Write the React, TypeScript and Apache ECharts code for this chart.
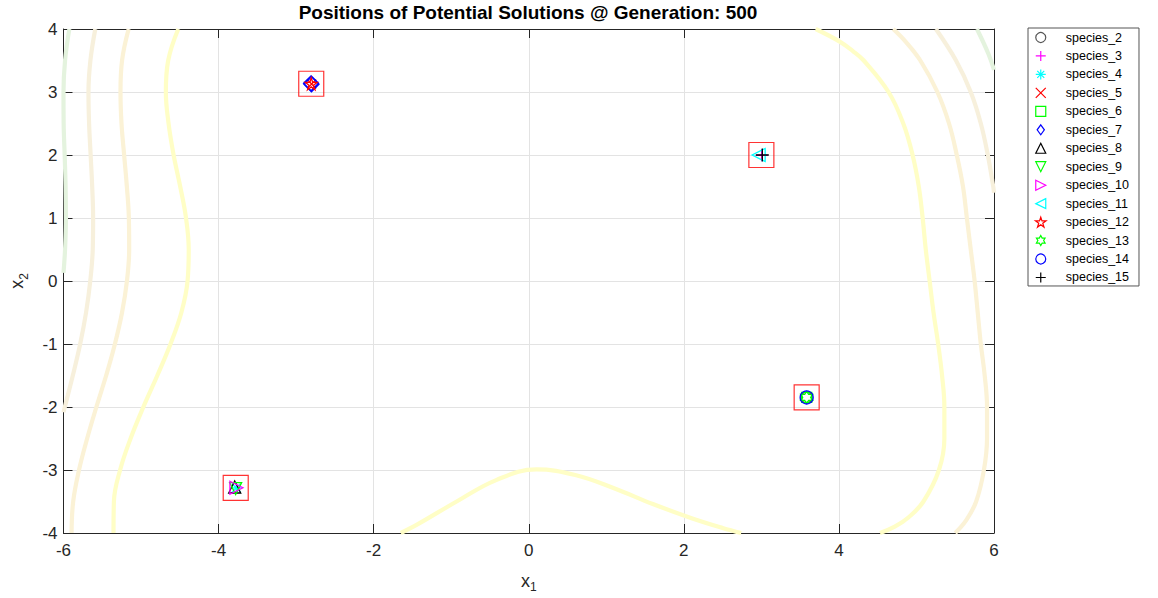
import React, { useEffect, useRef } from "react";
import * as echarts from "echarts";

// ---------- data ----------
const titleText = "Positions of Potential Solutions @ Generation: 500";
const xTicks = [-6, -4, -2, 0, 2, 4, 6];
const yTicks = [-4, -3, -2, -1, 0, 1, 2, 3, 4];

const speciesNames = [
  "species_2", "species_3", "species_4", "species_5", "species_6", "species_7", "species_8",
  "species_9", "species_10", "species_11", "species_12", "species_13", "species_14", "species_15",
];

// positions of each species (x1, x2)
const species2 = [[3.582, -1.849]];
const species3 = [[3.005, 1.995]];
const species4 = [[-3.772, -3.285]];
const species5 = [[-2.800, 3.128]];
const species6 = [[3.585, -1.847]];
const species7 = [[-2.808, 3.138], [-2.802, 3.122]];
const species8 = [[-3.792, -3.270]];
const species9 = [[-3.780, -3.295]];
const species10 = [[-3.770, -3.282]];
const species11 = [[2.965, 2.0]];
const species12 = [[-2.805, 3.131]];
const species13 = [[3.584, -1.848]];
const species14 = [[3.584, -1.848]];
const species15 = [[3.012, 2.0]];

// best solution of each cluster (red boxes)
const boxCenters = [[-2.805, 3.131], [3.0, 2.0], [3.584, -1.848], [-3.779, -3.283]];

// contour lines of the objective
const contour200Left = [[-4.52, 4], [-4.65, 3.5], [-4.68, 3], [-4.645, 2.5], [-4.58, 2], [-4.495, 1.5], [-4.42, 1], [-4.385, 0.5], [-4.4, 0], [-4.48, -0.5], [-4.62, -1], [-4.79, -1.5], [-4.97, -2], [-5.135, -2.5], [-5.27, -3], [-5.35, -3.5], [-5.355, -4]];
const contour200Bottom = [[-1.65, -4], [-1.43, -3.86], [-0.93, -3.5], [-0.42, -3.16], [0.1, -2.99], [0.6, -3.08], [1.1, -3.29], [1.6, -3.54], [2.1, -3.765], [2.5, -3.92], [2.74, -4]];
const contour200Right = [[3.7, 4], [4.01, 3.8], [4.18, 3.65], [4.32, 3.5], [4.64, 3], [4.83, 2.5], [4.95, 2], [5.03, 1.5], [5.08, 1], [5.12, 0.5], [5.17, 0], [5.22, -0.5], [5.28, -1], [5.33, -1.5], [5.36, -2], [5.36, -2.5], [5.29, -3], [5.09, -3.5], [4.9, -3.75], [4.72, -3.9], [4.53, -4]];
const contour400Left = [[-5.16, 4], [-5.245, 3.5], [-5.265, 3], [-5.252, 2.5], [-5.218, 2], [-5.183, 1.5], [-5.157, 1], [-5.153, 0.5], [-5.182, 0], [-5.245, -0.5], [-5.337, -1], [-5.45, -1.5], [-5.576, -2], [-5.695, -2.5], [-5.8, -3], [-5.875, -3.5], [-5.896, -4]];
const contour400Right = [[4.7, 4], [4.86, 3.8], [5.05, 3.5], [5.27, 3], [5.42, 2.5], [5.52, 2], [5.6, 1.5], [5.65, 1], [5.7, 0.5], [5.75, 0], [5.79, -0.5], [5.83, -1], [5.88, -1.5], [5.91, -2], [5.91, -2.5], [5.87, -3], [5.77, -3.5], [5.64, -3.8], [5.5, -4]];
const contour600Left = [[-5.59, 4], [-5.653, 3.5], [-5.678, 3], [-5.67, 2.5], [-5.65, 2], [-5.63, 1.5], [-5.618, 1], [-5.623, 0.5], [-5.655, 0], [-5.709, -0.5], [-5.785, -1], [-5.88, -1.5], [-5.983, -2], [-6, -2.085]];
const contour600Right = [[5.25, 4], [5.51, 3.5], [5.7, 3], [5.83, 2.5], [5.92, 2], [5.99, 1.5], [6, 1.4]];
const contour800Left = [[-5.925, 4], [-5.98, 3.5], [-6, 3], [-5.998, 2.5], [-5.985, 2], [-5.973, 1.5], [-5.969, 1], [-5.98, 0.5], [-6, 0.13]];
const contour800Right = [[5.78, 4], [5.93, 3.6], [6, 3.35]];

// ---------- styles ----------
const P = {
  plus: "path://M0,-1L0,1M-1,0L1,0",
  cross: "path://M-1,-1L1,1M1,-1L-1,1",
  asterisk: "path://M0,-1L0,1M-1,0L1,0M-0.7,-0.7L0.7,0.7M0.7,-0.7L-0.7,0.7",
  square: "path://M-1,-1L1,-1L1,1L-1,1Z",
  diamond: "path://M0,-1.25L0.9,0L0,1.25L-0.9,0Z",
  down: "path://M-1,-1L1,-1L0,1Z",
  right: "path://M-1,-1L1,0L-1,1Z",
  left: "path://M1,-1L-1,0L1,1Z",
  up: "path://M0,-1L1,1L-1,1Z",
  penta: "path://M0,-1L0.2245,-0.309L0.951,-0.309L0.3633,0.118L0.5878,0.809L0,0.382L-0.5878,0.809L-0.3633,0.118L-0.951,-0.309L-0.2245,-0.309Z",
  hexa: "path://M0,-1L0.2887,-0.5L0.866,-0.5L0.577,0L0.866,0.5L0.2887,0.5L0,1L-0.2887,0.5L-0.866,0.5L-0.577,0L-0.866,-0.5L-0.2887,-0.5Z",
};

const speciesStyle = [
  { data: species2, color: "#555555", symbol: "circle", size: 11 },
  { data: species3, color: "#ff00ff", symbol: P.plus, size: 12 },
  { data: species4, color: "#00ffff", symbol: P.asterisk, size: 12 },
  { data: species5, color: "#ff0000", symbol: P.cross, size: 9 },
  { data: species6, color: "#00ff00", symbol: P.square, size: 10 },
  { data: species7, color: "#0000ff", symbol: P.diamond, size: 15 },
  { data: species8, color: "#000000", symbol: P.up, size: 12 },
  { data: species9, color: "#00ff00", symbol: P.down, size: 12 },
  { data: species10, color: "#ff00ff", symbol: P.right, size: 13 },
  { data: species11, color: "#00ffff", symbol: P.left, size: 13 },
  { data: species12, color: "#ff0000", symbol: P.penta, size: 12 },
  { data: species13, color: "#00ff00", symbol: P.hexa, size: 12 },
  { data: species14, color: "#0000ff", symbol: "circle", size: 13 },
  { data: species15, color: "#000000", symbol: P.plus, size: 13 },
];

const contourSets = [
  { data: contour200Left, color: "#fffec6" },
  { data: contour200Bottom, color: "#fffec6" },
  { data: contour200Right, color: "#fffec6" },
  { data: contour400Left, color: "#fbf2d6" },
  { data: contour400Right, color: "#fbf2d6" },
  { data: contour600Left, color: "#f7f0dc" },
  { data: contour600Right, color: "#f7f0dc" },
  { data: contour800Left, color: "#e4f3de" },
  { data: contour800Right, color: "#e4f3de" },
];

const FONT = "Arial, 'Liberation Sans', Helvetica, sans-serif";
const AX = "#262626";

export default function App() {
  const ref = useRef<HTMLDivElement>(null);
  useEffect(() => {
    if (!ref.current) return;
    const chart = echarts.init(ref.current, undefined, { renderer: "svg" });

    const series: any[] = [];
    contourSets.forEach((c, i) => {
      series.push({
        type: "line",
        name: "contour" + i,
        data: c.data,
        smooth: 0.4,
        showSymbol: false,
        silent: true,
        z: 1,
        lineStyle: { color: c.color, width: 4.2 },
      });
    });
    speciesStyle.forEach((s, i) => {
      series.push({
        type: "scatter",
        name: speciesNames[i],
        data: s.data,
        symbol: s.symbol,
        symbolSize: s.size,
        z: 3,
        itemStyle: { color: "none", borderColor: s.color, borderWidth: 1.3, opacity: 1 },
      });
    });
    series.push({
      type: "scatter",
      name: "best",
      data: boxCenters,
      symbol: "rect",
      symbolSize: 25,
      z: 4,
      silent: true,
      itemStyle: { color: "none", borderColor: "#ff0000", borderWidth: 1.2 },
    });

    const nameRich = {
      a: { fontFamily: FONT, fontSize: 18, color: AX },
      b: { fontFamily: FONT, fontSize: 12, color: AX, padding: [13, 0, 0, 0] },
    };

    chart.setOption({
      animation: false,
      backgroundColor: "#ffffff",
      title: {
        text: titleText,
        left: 528,
        top: 3,
        padding: 0,
        textAlign: "center",
        textStyle: { fontFamily: FONT, fontSize: 19, fontWeight: "bold", color: "#000" },
      },
      legend: {
        orient: "vertical",
        left: 1028,
        top: 28,
        padding: [2, 10, 1, 5],
        itemWidth: 40,
        itemHeight: 10,
        itemGap: 3.46,
        borderColor: "#555555",
        borderWidth: 1,
        borderRadius: 0,
        backgroundColor: "#fff",
        selectedMode: false,
        data: speciesNames.map((n, i) => ({
          name: n,
          icon: speciesStyle[i].symbol,
          itemStyle: { color: "none", borderColor: speciesStyle[i].color, borderWidth: 1.2 },
        })),
        textStyle: { fontFamily: FONT, fontSize: 12.5, color: "#000" },
      },
      grid: { left: 62, right: 164, top: 29, bottom: 65, containLabel: false },
      xAxis: [
        {
          type: "value", min: -6, max: 6, interval: 2,
          name: "{a|x}{b|1}", nameLocation: "middle", nameGap: 35,
          nameTextStyle: { rich: nameRich },
          axisLine: { show: true, onZero: false, lineStyle: { color: AX, width: 1 } },
          axisTick: { show: true, inside: true, length: 9, lineStyle: { color: AX } },
          axisLabel: { margin: 9, fontFamily: FONT, fontSize: 17, color: AX },
          splitLine: { show: true, lineStyle: { color: "#e3e3e3", width: 1 } },
        },
        {
          type: "value", min: -6, max: 6, interval: 2, position: "top",
          axisLine: { show: true, onZero: false, lineStyle: { color: AX, width: 1 } },
          axisTick: { show: true, inside: true, length: 9, lineStyle: { color: AX } },
          axisLabel: { show: false },
          splitLine: { show: false },
        },
      ],
      yAxis: [
        {
          type: "value", min: -4, max: 4, interval: 1,
          name: "{a|x}{b|2}", nameLocation: "middle", nameGap: 34,
          nameTextStyle: { rich: nameRich },
          axisLine: { show: true, onZero: false, lineStyle: { color: AX, width: 1 } },
          axisTick: { show: true, inside: true, length: 9, lineStyle: { color: AX } },
          axisLabel: { margin: 6, fontFamily: FONT, fontSize: 17, color: AX },
          splitLine: { show: true, lineStyle: { color: "#e3e3e3", width: 1 } },
        },
        {
          type: "value", min: -4, max: 4, interval: 1, position: "right",
          axisLine: { show: true, onZero: false, lineStyle: { color: AX, width: 1 } },
          axisTick: { show: true, inside: true, length: 9, lineStyle: { color: AX } },
          axisLabel: { show: false },
          splitLine: { show: false },
        },
      ],
      series,
    });
    return () => chart.dispose();
  }, []);
  return (
    <div
      ref={ref}
      style={{ position: "absolute", left: 0, top: 0, width: 1158, height: 598, background: "#fff" }}
    />
  );
}
